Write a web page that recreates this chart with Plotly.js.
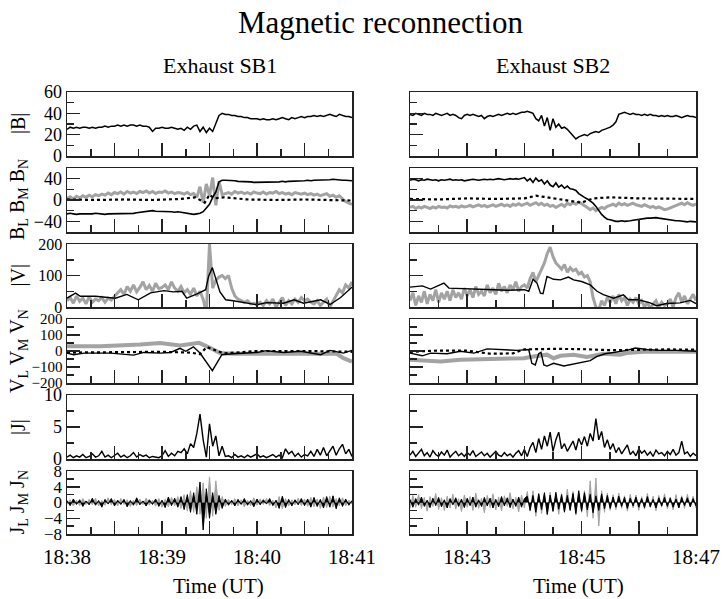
<!DOCTYPE html>
<html><head><meta charset="utf-8">
<script src="https://cdn.plot.ly/plotly-3.0.1.min.js"></script>
<style>html,body{margin:0;padding:0;background:#fff}</style>
</head><body><div id="chart" style="width:724px;height:599px"></div>
<script>
// ---------- sampling grids (minutes after the panel start) ----------
const leftStartMin = 38;   // 18:38
const rightStartMin = 42;  // 18:42
const leftStep = 2/60;     // 2-s samples, 91 points over 3 min
const rightStep = 3/60;    // 3-s samples, 101 points over 5 min

// ---------- Exhaust SB1 (left) ----------
const BmagL = [25,27,26,27,26,27,27,26,27,26,27, 27,28,27,28,28,29,28,29,28,29,29,28,29,28,28, 27,23, 26,26,27,26,26,27,26, 25,26,24,27,25,28, 29,23,27,22,26,23,30, 38,40,39, 39,38,38,37,37,36,36,35,35,35, 34,35,34,34,35,34,35,36,35,34,36,35,36,37,36, 37,37,38,37,38,37,38,39,38,37,39,38,37,37,36];
const BLL = [-26,-25,-26,-27,-26,-26,-27,-26,-26,-25,-26,-26,-27,-26,-26,-25,-26,-26,-25,-26,-25, -25,-24,-23,-22,-21,-20,-20, -21,-21,-22,-21,-22,-22,-23,-22,-23, -24,-25,-26,-27,-26,-25, -22,-15,-8,5,15,34,37, 37,37,36,36,35,35,34,34,34,33,33, 33,34,33,34,34,33,34,35,34,35,35,36,35,36,36, 37,36,37,37,38,37,38,38,39,38,38,37,37,36,36];
const BML = [3,6,2,7,4,8,5,9,6,10,8, 11,9,13,10,14,12,15,11,16,13,15,12,16,14,17, 13,16,12,15,14,17,13,15,12,14,13,11,14,10,12, 5,25,-5,30,8,42,-10,35,10,12, 14,11,16,13,15,12,14,11,15,13, 12,15,11,14,13,16,12,14,11,13,10,14,12,11,13, 10,12,9,11,8,10,12,7,9,5,8,2,-3,-6,-8];
const tBNL = [0,0.3,0.6,0.9,1.2,1.35,1.45,1.5,1.55,1.65,1.9,2.2,2.5,2.8,3.0];
const BNL = [1,0,1,0,2,5,-5,10,3,5,1,0,1,0,-1];
const VmagGrayL = [20,30,12,35,18,28,10,32,15,25, 20,30,15,28,22,35,45, 55,40,65,50,70,48,62,80,55,68,50,75,58,62, 70,55,80,60,50,65,45,55,40,60,35, 50,25,-20,200,60,85, 95,100,90,100,60, 35,25,20,15,20,10,12,8, 15,5,20,10,25,0,15,30,5,20,10,25,15,30,20, 25,15,10,20,5,15,25,0,20,40,55,45,70,60,80];
const tVbL = [0,0.09,0.14,0.3,0.51,0.63,0.75,0.88,1.02,1.12,1.21,1.26,1.37,1.46,1.49,1.53,1.61,1.67,1.75,2.0,2.1,2.28,2.39,2.49,2.67,2.77,2.88,3.0];
const VbL = [28,44,34,34,28,40,23,45,52,48,50,28,42,55,97,125,48,23,20,7,14,12,23,12,23,8,30,63];
const tVML = [0,0.35,0.77,0.98,1.19,1.3,1.39,1.51,1.61,1.75,2.2,2.5,2.84,2.91,3.0];
const VML = [30,30,40,50,34,40,51,19,-13,-17,-15,-17,-17,-45,-66];
const tVLL = [0,0.07,0.18,0.46,0.7,0.81,0.98,1.09,1.19,1.25,1.33,1.4,1.53,1.63,1.75,2.0,2.1,2.28,2.46,2.67,2.77,2.91,3.0];
const VLL = [-13,-23,-13,-13,-26,-9,-13,-9,17,-2,26,-13,-123,-23,-17,-9,2,-9,-2,-23,4,-13,4];
const tVNL = [0,0.5,1.0,1.3,1.4,1.47,1.55,1.65,2.0,2.5,3.0];
const VNL = [-10,-8,-5,-10,-20,25,5,-15,0,0,-5];
const JmagL = [0.3,0.6,0.2,0.5,0.3,0.7,0.2,0.4,0.8,0.3,0.5,1.2,0.3,0.6,0.2,0.5,0.9,0.3,0.6,0.2,0.5,1.0,0.3,0.7,0.4,0.6,0.2,0.4,0.3,0.2,0.5,1.3,0.4,0.9,0.5,1.2, 1.0,1.6,0.8,2.4,1.8,4.0, 7.0,3.0,0.3,5.5,2.0,3.6,0.5,2.0,0.4, 0.5,0.2,0.7,0.3,0.5,0.2,0.6,0.3,0.5,0.8,0.3,0.5,0.2,0.4,0.7,0.3,0.6,0.2,1.6,0.8,1.2,0.4,0.9,0.3,0.7, 0.5,1.2,0.4,1.5,0.6,1.8,0.5,1.3,2.0,0.6,1.6,2.3,0.8,1.5,0.4];
const JLL = [0.5,-0.8,0.9,-0.5,0.7,-1.0,0.4,-0.6,1.1,-0.7, 0.5,-1.2,0.8,-0.4,1.0,-0.9,0.6,-0.5,0.8,-1.1, 0.5,-0.7,1.2,-0.6,0.4,-0.9,0.7,-0.5,0.9,-1.0, 0.6,-1.3,1.4,-0.8,1.1,-1.2, 1.5,-1.8,2.0,-2.5,2.5,-3.0,5.2,-7.0,3.5,-4.0,2.5,-3.0,1.8,-1.5,0.9, -0.7,0.6,-0.9,0.8,-0.5,1.0,-0.7,0.5,-1.1,0.9, -0.6,0.7,-0.4,1.0,-0.8,0.6,-1.5,1.6,-1.3,0.8, -0.9,0.7,-0.6,1.0,-0.8, 0.9,-1.2,1.3,-1.0,0.8,-1.4,1.5,-1.2,1.7,-1.6,1.2,-1.0,0.9,-0.7,0.5];
const JML = [-0.5,0.7,-0.9,0.6,-0.8,1.0,-0.5,0.8,-0.6,1.1, -0.9,0.5,-0.7,1.2,-0.6,0.8,-0.9,1.0,-0.5,0.7, -1.0,0.6,-0.8,0.9,-0.5,1.1,-0.7,0.6,-0.9,1.0, -1.2,0.8,-1.1,1.3,-0.9,1.5, -1.5,2.0,-2.2,3.0,-2.5,4.0,-3.0,5.0,-4.0,6.5,-3.5,5.5,-2.0,1.5,-1.0, 0.8,-0.6,1.0,-0.9,0.7,-1.1,0.6,-0.8,1.2,-0.7, 0.9,-0.5,1.0,-0.8,0.6,-1.4,1.5,-1.6,1.0,-0.9, 0.7,-0.6,1.1,-0.8,0.9, -1.0,1.3,-1.1,0.9,-1.5,1.4,-1.3,1.6,-1.2,1.0,-0.8,1.2,-0.9,0.6,-0.4];

// ---------- Exhaust SB2 (right) ----------
const BmagR = [39,38,40,39,38,40,39,39,38,40,39,38,39,40,38,39,38,36, 35,38,39,38,39,38,37,38, 35, 37,38,37,38,39,38,39,40,39,40,39,40,41, 41,42,41,40, 35, 33,38,28,36,24,35, 27,30,26,27,25,22,19,16,18,19,20,19,21,22,23,22,24,25,26,27,29,32,39,40,41, 40,39,40,39,39,38,39,38,39,38,38,37,38,37,38,37,37,38,37,36,37,38,37,37,36];
const BLR = [37,39,38,36,38,37,39,38,37,38,36,38,37,38,39,37,38,37,38,36,37,38,39,38,37,38,39,38,39,38,39,40,39,38,39,40,39,40,39,41, 42,36,40,33,41,35,38,30,36,28, 25,32,24,28,22,26,21,20,18,12, 8,5,2,-2,-6,-12,-20,-27,-32,-36, -37,-39,-40,-40,-39,-40,-40,-39,-38,-37, -37,-36,-35,-34,-34,-33,-33,-34,-35,-36, -37,-37,-38,-39,-39,-40,-40,-41,-40,-40,-41];
const BMR = [-14,-12,-16,-13,-15,-12,-14,-16,-13,-15,-12,-14,-13,-15,-11,-13,-12,-14,-11,-13, -12,-10,-13,-11,-9,-12,-10,-13,-11,-9,-12,-10,-8,-11,-9,-12,-8,-10,-7,-10, -8,-6,-10,-7,-5,-9,-6,-10,-8,-12, -10,-14,-11,-8,-12,-6,-9,-5,-8,-4, -7,-10,-14,-18,-15,-20,-17,-14,-16,-12, -10,-8,-11,-6,-9,-7,-10,-8,-6,-9, -10,-12,-9,-11,-14,-12,-15,-13,-16,-18, -17,-15,-12,-10,-8,-6,-9,-5,-8,-10,-7];
const tBNR = [0,0.5,1,1.5,2,2.2,2.4,2.6,2.8,3.0,3.2,3.5,4,4.5,5];
const BNR = [2,1,3,2,3,8,5,2,-2,-5,3,5,3,2,2];
const VmagGrayR = [20,45,5,35,15,50,10,40,20,55,15,45,25,50,20,55,30,45,25,60, 35,55,30,65,40,50,35,70,45,60,40,75,50,65,45,70,55,80,50,65, 70,60,90,110,80,100,120,140,170,190, 160,140,130,120,135,110,125,115,120,105, 110,95,100,80,30,0,-10,20,5,30, 15,35,10,40,20,30,5,25,15,30, 10,20,0,15,-5,10,20,0,15,5, 10,25,0,30,45,15,35,10,25,40,20];
const tVbR = [0,0.215,0.36,0.593,0.68,1.0,1.465,1.7,2.0,2.076,2.151,2.22,2.28,2.326,2.395,2.51,2.63,2.77,2.86,3.0,3.15,3.27,3.38,3.56,3.73,3.82,3.99,4.2,4.31,4.49,4.72,4.9,5.0];
const VbR = [63,67,57,76,60,57,55,53,55,50,88,76,44,42,97,88,86,95,86,81,70,50,39,28,39,23,23,13,4,11,13,21,11];
const tVMR = [0,0.3,0.535,0.88,1.465,1.99,2.16,2.395,2.51,2.63,2.86,3.09,3.21,3.38,3.67,3.79,4.08,5.0];
const VMR = [-55,-60,-66,-55,-47,-45,-34,-23,-45,-30,-23,-38,-30,-17,-23,-13,-5,-4];
const tVLR = [0,0.1,0.215,0.36,0.65,0.88,1.12,1.35,1.58,1.87,2.076,2.13,2.19,2.25,2.29,2.34,2.395,2.51,2.69,2.92,3.15,3.27,3.41,3.56,3.79,3.94,4.14,4.37,4.66,5.0];
const VLR = [-13,-23,-30,-13,-17,-2,-13,13,9,4,9,-77,-87,-17,-9,-87,-94,-77,-94,-77,-60,-34,-17,-9,4,19,9,4,4,-2];
const tVNR = [0,0.5,1.0,1.4,1.8,2.0,2.5,3.0,3.5,4,4.5,5];
const VNR = [-5,3,2,-17,-15,10,13,12,5,8,10,8];
const JmagR = [0.6,1.2,0.4,0.9,1.5,0.5,1.0,0.3,1.3,0.7,0.4,1.1,0.6,1.4,0.3,0.8,1.2,0.5,0.9,0.4,1.0,0.6,1.3,0.4,0.8,1.1,0.5,0.9,0.3,0.7,1.2,0.6,0.4,1.0,0.5,0.8,0.3,0.9,1.3,0.5,1.5,0.4, 1.8,2.6,1.0,3.2,1.5,3.6,2.0,4.2,1.2,3.0,4.2,1.6,2.4,1.2,2.0,2.8,1.4,3.2,2.2, 3.5,2.0,4.0,2.8,6.3,3.0,4.3,1.8,3.0,1.5, 2.4,1.0,1.8,0.8,1.5,2.2,0.7,1.2,0.5,1.6,0.9,1.3,0.6,1.1,0.4,1.4,0.8,1.0,0.5,1.2,0.7,1.5,0.6,1.0,2.8,0.8,1.1,0.4,0.9,0.5];
const JLR = [0.8,-1.2,1.0,-0.7,1.4,-1.0,0.6,-1.3,1.1,-0.8, 1.3,-1.1,0.7,-1.4,1.0,-0.6,1.2,-1.0,0.9,-1.3, 1.1,-0.8,1.4,-1.2,0.7,-1.0,1.3,-0.9,1.1,-1.4, 0.8,-1.1,1.5,-0.9,1.2,-1.3,0.9,-1.0,1.4,-1.2, 1.0, 1.6,-2.0,1.8,-2.5,2.2,-1.8,2.5,-3.0,1.9,-2.2, 2.6,-1.7,2.0,-2.4,1.8,-2.0,2.3,-2.8,3.0,-2.2, 2.5,-1.9,2.1,-2.6,1.7,-2.0,2.2,-1.6,1.8,-1.5, 1.4,-1.2,1.6,-1.0,1.3,-1.5,1.1,-0.9,1.4,-1.2, 1.0,-1.3,1.5,-1.1,0.8,-1.4,1.2,-0.9,1.3,-1.0, 1.1,-1.2,0.9,-1.4,1.3,-0.8,1.2,-1.1,1.0,-0.9];
const JMR = [-1.5,1.8,-1.2,2.0,-1.6,1.3,-2.2,1.5,-1.0,2.3, -1.8,1.2,-2.0,1.6,-1.4,2.1,-1.7,1.0,-2.3,1.9, -1.2,1.5,-2.0,2.4,-1.5,1.1,-2.6,1.8,-1.3,2.2, -1.9,1.4,-2.1,1.7,-1.0,2.5,-1.6,1.3,-2.4,1.9, -1.4, 2.8,-2.2,3.0,-3.5,2.4,-2.8,2.0,-3.2,2.6,-2.4, 1.8,-3.0,2.2,-2.6,3.4,-2.0,2.8,-3.2,2.4,-2.5, 3.0,-3.6,5.5,-4.0,6.2,-6.0,3.0,-2.5,2.4,-2.0, 2.0,-1.8,2.4,-1.5,1.7,-2.2,2.1,-1.4,1.9,-2.0, 1.5,-1.7,2.3,-1.3,1.6,-2.1,1.8,-1.2,2.2,-1.6, 1.4,-1.9,2.0,-1.3,1.7,-1.5,2.1,-1.0,1.6,-1.4];

// ---------- labels ----------
const chartTitle = 'Magnetic reconnection';
const colTitles = ['Exhaust SB1', 'Exhaust SB2'];
const rowTitles = ['|B|', 'B<sub>L</sub> B<sub>M</sub> B<sub>N</sub>', '|V|', 'V<sub>L</sub> V<sub>M</sub> V<sub>N</sub>', '|J|', 'J<sub>L</sub> J<sub>M</sub> J<sub>N</sub>'];
const xTitle = 'Time (UT)';

// ---------- helpers ----------
const BASE = Date.UTC(2000, 0, 1, 18, 0, 0);
const MS_MIN = 60000;
function toMs(startMin, offs) { return offs.map(t => BASE + (startMin + t) * MS_MIN); }
function gridOffsets(n, step) { const a = []; for (let i = 0; i < n; i++) a.push(i * step); return a; }
const gL = toMs(leftStartMin, gridOffsets(BmagL.length, leftStep));
const gR = toMs(rightStartMin, gridOffsets(BmagR.length, rightStep));
const L = a => toMs(leftStartMin, a), R = a => toMs(rightStartMin, a);

const BLACK = '#000000', GRAY = '#a3a3a3';
const traces = [];
function add(row, col, x, y, color, width, dash, fill) {
  const k = row * 2 + col + 1;
  const t = {type: 'scatter', mode: 'lines', x: x, y: y,
    xaxis: 'x' + (k > 1 ? k : ''), yaxis: 'y' + (k > 1 ? k : ''),
    line: {color: color, width: width, dash: dash || 'solid'}, hoverinfo: 'skip', showlegend: false};
  if (fill) { t.fill = 'tozeroy'; t.fillcolor = color; }
  traces.push(t);
}
// row 0 |B|
add(0, 0, gL, BmagL, BLACK, 1.5);
add(0, 1, gR, BmagR, BLACK, 1.5);
// row 1 B components
add(1, 0, gL, BML, GRAY, 3);
add(1, 0, L(tBNL), BNL, BLACK, 2.2, 'dot');
add(1, 0, gL, BLL, BLACK, 1.6);
add(1, 1, gR, BMR, GRAY, 3);
add(1, 1, R(tBNR), BNR, BLACK, 2.2, 'dot');
add(1, 1, gR, BLR, BLACK, 1.6);
// row 2 |V|
add(2, 0, gL, VmagGrayL, GRAY, 3);
add(2, 0, L(tVbL), VbL, BLACK, 1.4);
add(2, 1, gR, VmagGrayR, GRAY, 3);
add(2, 1, R(tVbR), VbR, BLACK, 1.4);
// row 3 V components
add(3, 0, L(tVML), VML, GRAY, 4);
add(3, 0, L(tVNL), VNL, BLACK, 2.2, 'dot');
add(3, 0, L(tVLL), VLL, BLACK, 1.4);
add(3, 1, R(tVMR), VMR, GRAY, 4);
add(3, 1, R(tVNR), VNR, BLACK, 2.2, 'dot');
add(3, 1, R(tVLR), VLR, BLACK, 1.4);
// row 4 |J|
add(4, 0, gL, JmagL, BLACK, 1.4);
add(4, 1, gR, JmagR, BLACK, 1.4);
// row 5 J components
add(5, 0, gL, JML, GRAY, 1, null, true);
add(5, 0, gL, JLL, BLACK, 1, null, true);
add(5, 1, gR, JMR, GRAY, 1, null, true);
add(5, 1, gR, JLR, BLACK, 1, null, true);

// ---------- layout ----------
const W = 724, H = 599;
const px = v => v / W, py = v => 1 - v / H;
const rowTop = [92, 168, 244, 319, 395, 471];
const rowBot = [156, 232, 307, 383, 459, 534];
const colLeft = [67, 410], colRight = [352, 696];
const yCfg = [
  {range: [0, 60], dtick: 20, minor: 10, fs: 18},
  {range: [-60, 60], dtick: 40, minor: 20, fs: 18},
  {range: [0, 200], dtick: 100, minor: 50, fs: 16},
  {range: [-200, 200], dtick: 100, minor: 50, fs: 15},
  {range: [0, 10], dtick: 5, minor: 2.5, fs: 18},
  {range: [-8, 8], dtick: 4, minor: 2, fs: 17}
];
const FONT = '"Liberation Serif", "Times New Roman", Times, serif';
const AX = '#222222';
const layout = {
  width: W, height: H, margin: {l: 0, r: 0, t: 0, b: 0},
  paper_bgcolor: '#ffffff', plot_bgcolor: '#ffffff', showlegend: false,
  font: {family: FONT, color: '#000', size: 18},
  annotations: []
};
for (let r = 0; r < 6; r++) {
  for (let c = 0; c < 2; c++) {
    const k = r * 2 + c + 1;
    const sx = k > 1 ? k : '';
    const isLeft = c === 0;
    layout['xaxis' + sx] = {
      type: 'date', domain: [px(colLeft[c]), px(colRight[c])], anchor: 'y' + sx,
      range: isLeft ? ['2000-01-01 18:38:00', '2000-01-01 18:41:00'] : ['2000-01-01 18:42:00', '2000-01-01 18:47:00'],
      tick0: isLeft ? '2000-01-01 18:38:00' : '2000-01-01 18:43:00',
      dtick: isLeft ? 30000 : 60000, ticklabelstep: 2, tickformat: '%H:%M',
      ticks: 'inside', ticklen: 13, tickwidth: 1.5, tickcolor: AX,
      minor: {ticks: 'inside', ticklen: 7, tickwidth: 1.5, tickcolor: AX, dtick: isLeft ? 15000 : 30000,
              tick0: isLeft ? '2000-01-01 18:38:00' : '2000-01-01 18:42:00', showgrid: false},
      showticklabels: r === 5, tickfont: {family: FONT, size: 21, color: '#000'}, ticklabelstandoff: 3,
      showline: true, mirror: true, linecolor: AX, linewidth: 1.5,
      showgrid: false, zeroline: false, fixedrange: true
    };
    const yc = yCfg[r];
    layout['yaxis' + sx] = {
      domain: [py(rowBot[r]), py(rowTop[r])], anchor: 'x' + sx,
      range: yc.range, tick0: 0, dtick: yc.dtick,
      ticks: 'inside', ticklen: 13, tickwidth: 1.5, tickcolor: AX,
      minor: {ticks: 'inside', ticklen: 7, tickwidth: 1.5, tickcolor: AX, tick0: 0, dtick: yc.minor, showgrid: false},
      showticklabels: isLeft, tickfont: {family: FONT, size: yc.fs, color: '#000'},
      showline: true, mirror: true, linecolor: AX, linewidth: 1.5,
      showgrid: false, zeroline: false, fixedrange: true
    };
  }
  layout.annotations.push({text: rowTitles[r], xref: 'paper', yref: 'paper', x: px(18), y: py((rowTop[r] + rowBot[r]) / 2),
    xanchor: 'center', yanchor: 'middle', textangle: -90, showarrow: false, font: {family: FONT, size: 20, color: '#000'}});
}
layout.annotations.push({text: chartTitle, xref: 'paper', yref: 'paper', x: px(380), y: py(23), xanchor: 'center', yanchor: 'middle',
  showarrow: false, font: {family: FONT, size: 31, color: '#000'}});
layout.annotations.push({text: colTitles[0], xref: 'paper', yref: 'paper', x: px(220), y: py(65), xanchor: 'center', yanchor: 'middle',
  showarrow: false, font: {family: FONT, size: 22, color: '#000'}});
layout.annotations.push({text: colTitles[1], xref: 'paper', yref: 'paper', x: px(553), y: py(65), xanchor: 'center', yanchor: 'middle',
  showarrow: false, font: {family: FONT, size: 22, color: '#000'}});
layout.annotations.push({text: xTitle, xref: 'paper', yref: 'paper', x: px(218), y: py(586), xanchor: 'center', yanchor: 'middle',
  showarrow: false, font: {family: FONT, size: 21, color: '#000'}});
layout.annotations.push({text: xTitle, xref: 'paper', yref: 'paper', x: px(578), y: py(586), xanchor: 'center', yanchor: 'middle',
  showarrow: false, font: {family: FONT, size: 21, color: '#000'}});

Plotly.newPlot('chart', traces, layout, {staticPlot: true, displayModeBar: false});
</script></body></html>
